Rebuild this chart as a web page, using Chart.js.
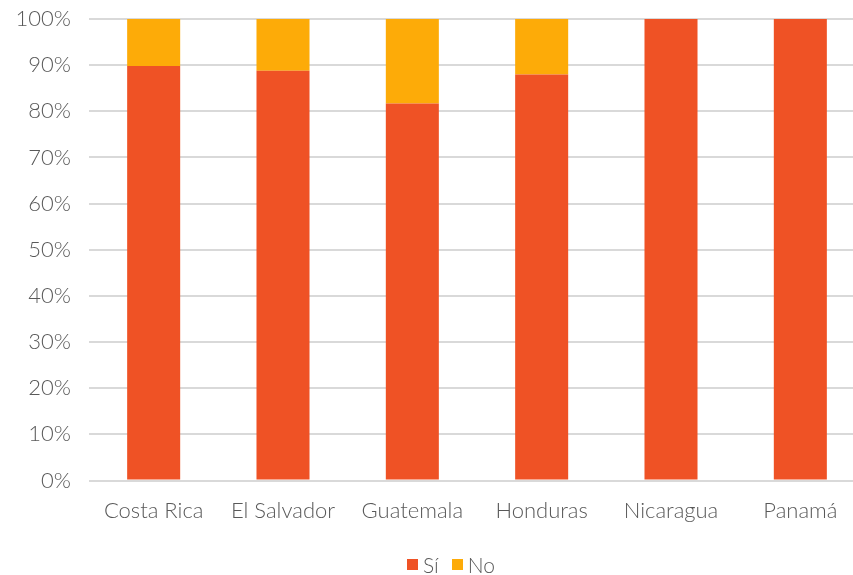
<!DOCTYPE html>
<html>
<head>
<meta charset="utf-8">
<script src="https://cdn.jsdelivr.net/npm/chart.js@4"></script>
<style>
  html, body { margin: 0; padding: 0; background: #fff; overflow: hidden; width: 853px; height: 575px; }
  #wrap { position: absolute; left: 0; top: 0; width: 866px; height: 575px; }
  .legend { position: absolute; top: 552px; left: 407px; font-family: Lato, "Open Sans", sans-serif; font-weight: 300; font-size: 21px; color: #595959; display: flex; align-items: center; }
  .legend span.box { display: inline-block; width: 11px; height: 11px; margin-right: 5px; }
  .legend span.txt { margin-right: 13px; }
</style>
</head>
<body>
<div id="wrap"><canvas id="chart" width="866" height="575"></canvas></div>
<div class="legend">
  <span class="box" style="background:#EF5225"></span><span class="txt">Sí</span>
  <span class="box" style="background:#FDAB08"></span><span class="txt">No</span>
</div>
<script>
const categories = ['Costa Rica', 'El Salvador', 'Guatemala', 'Honduras', 'Nicaragua', 'Panamá'];
const siValues = [89.8, 88.8, 81.7, 88.0, 100, 100];
const noValues = [10.2, 11.2, 18.3, 12.0, 0, 0];
const yTicks = [0, 10, 20, 30, 40, 50, 60, 70, 80, 90, 100];

const tickFont = { family: 'Lato, "Open Sans", sans-serif', size: 22, weight: 300 };

const ctx = document.getElementById('chart').getContext('2d');
new Chart(ctx, {
    type: 'bar',
    data: {
        labels: categories,
        datasets: [
            { label: 'Sí', data: siValues, backgroundColor: '#EF5225', categoryPercentage: 1, barPercentage: 0.41 },
            { label: 'No', data: noValues, backgroundColor: '#FDAB08', categoryPercentage: 1, barPercentage: 0.41 }
        ]
    },
    options: {
        responsive: false,
        devicePixelRatio: 1,
        animation: false,
        layout: { padding: { top: 19, right: 1, left: 0, bottom: 0 } },
        plugins: {
            legend: { display: false },
            tooltip: { enabled: false }
        },
        scales: {
            x: {
                stacked: true,
                grid: { display: false },
                border: { display: false },
                ticks: { color: '#595959', font: tickFont, padding: 9, maxRotation: 0 },
                afterFit: function(scale) {
                    scale.height = 94.5;
                    scale.paddingLeft = 0;
                    scale.paddingRight = 0;
                }
            },
            y: {
                stacked: true,
                min: 0,
                max: 100,
                afterBuildTicks: function(scale) {
                    scale.ticks = yTicks.map(v => ({ value: v }));
                },
                grid: { color: '#d9d9d9', lineWidth: 2, drawTicks: false },
                border: { display: false },
                ticks: {
                    color: '#595959',
                    font: tickFont,
                    padding: 18,
                    callback: function(value) { return value + '%'; }
                },
                afterFit: function(scale) {
                    scale.width = 89;
                    scale.paddingTop = 0;
                    scale.paddingBottom = 0;
                }
            }
        }
    }
});
</script>
</body>
</html>
